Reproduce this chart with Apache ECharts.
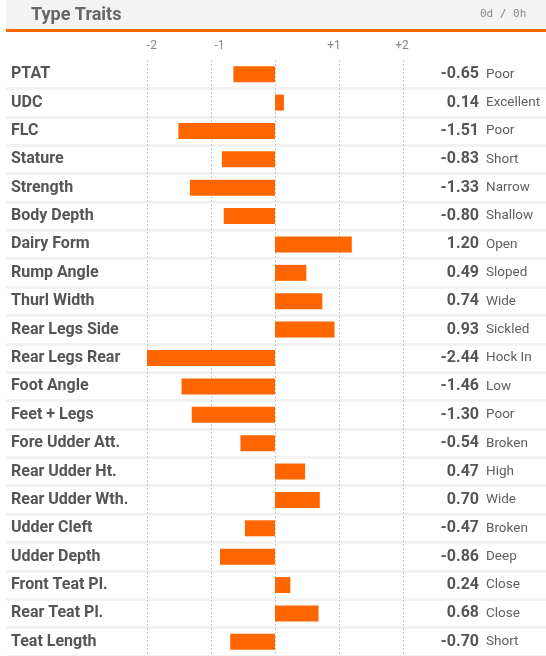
<!DOCTYPE html>
<html>
<head>
<meta charset="utf-8">
<script src="https://cdn.jsdelivr.net/npm/echarts@6/dist/echarts.min.js"></script>
<style>
  html, body { margin: 0; padding: 0; background: #fff; }
  #chart { width: 546px; height: 656px; }
</style>
</head>
<body>
<div id="chart"></div>
<script>
// trait names, top to bottom
var traits = ['PTAT', 'UDC', 'FLC', 'Stature', 'Strength', 'Body Depth', 'Dairy Form',
  'Rump Angle', 'Thurl Width', 'Rear Legs Side', 'Rear Legs Rear', 'Foot Angle',
  'Feet + Legs', 'Fore Udder Att.', 'Rear Udder Ht.', 'Rear Udder Wth.', 'Udder Cleft',
  'Udder Depth', 'Front Teat Pl.', 'Rear Teat Pl.', 'Teat Length']
var scores = [-0.65, 0.14, -1.51, -0.83, -1.33, -0.80, 1.20, 0.49, 0.74, 0.93, -2.44,
  -1.46, -1.30, -0.54, 0.47, 0.70, -0.47, -0.86, 0.24, 0.68, -0.70]
var descriptors = ['Poor', 'Excellent', 'Poor', 'Short', 'Narrow', 'Shallow', 'Open',
  'Sloped', 'Wide', 'Sickled', 'Hock In', 'Low', 'Poor', 'Broken', 'High', 'Wide',
  'Broken', 'Deep', 'Close', 'Close', 'Short']
var tickValues = [-2, -1, 0, 1, 2]
var tickLabels = ['-2', '-1', '', '+1', '+2']

var font = 'Roboto, "Liberation Sans", sans-serif'
var chart = echarts.init(document.getElementById('chart'))

// right hand columns share these settings
function rightAxis(align, margin, fmt, style) {
  return {
    gridIndex: 0,
    type: 'category',
    inverse: true,
    position: 'right',
    offset: 0,
    data: traits,
    axisLine: { show: false },
    axisTick: { show: false },
    axisLabel: Object.assign({ align: align, margin: margin, formatter: fmt, padding: [3, 0, 0, 0] }, style)
  }
}

chart.setOption({
  animation: false,
  title: [
    {
      text: 'Type Traits',
      left: 31,
      top: 6,
      padding: 0,
      textStyle: { fontFamily: font, fontSize: 18, fontWeight: 'bold', color: '#666' }
    },
    {
      text: '0d / 0h',
      left: 480,
      top: 9,
      padding: 0,
      textStyle: { fontFamily: '"DejaVu Sans Mono", monospace', fontSize: 11, fontWeight: 'normal', color: '#888' }
    }
  ],
  graphic: [
    { type: 'rect', z: -10, shape: { x: 6, y: 0, width: 540, height: 29 }, style: { fill: '#f3f3f3' } },
    { type: 'rect', z: -10, shape: { x: 6, y: 29, width: 540, height: 3 }, style: { fill: '#ff6600' } }
  ],
  grid: [
    { left: 147, right: 143, top: 60, bottom: -4 },
    { left: 6, right: 0, top: 60, bottom: -4 }
  ],
  xAxis: [
    {
      gridIndex: 0,
      type: 'value',
      position: 'top',
      min: -2,
      max: 2,
      interval: 1,
      axisLine: { show: false },
      axisTick: { show: false },
      axisLabel: {
        margin: 8,
        fontFamily: font,
        fontSize: 12,
        color: '#888',
        formatter: function (v) {
          var i = tickValues.indexOf(v)
          return tickLabels[i] ? '{t' + i + '|' + tickLabels[i] + '}' : ''
        },
        rich: {
          t0: { padding: [0, 0, 0, 10], fontFamily: font, fontSize: 12, color: '#888' },
          t1: { padding: [0, 0, 0, 17], fontFamily: font, fontSize: 12, color: '#888' },
          t3: { padding: [0, 10, 0, 0], fontFamily: font, fontSize: 12, color: '#888' },
          t4: { padding: [0, 2, 0, 0], fontFamily: font, fontSize: 12, color: '#888' }
        }
      },
      splitLine: { show: true, lineStyle: { color: '#c8c8c8', width: 1, type: [2, 2] } }
    },
    { gridIndex: 1, type: 'value', show: false }
  ],
  yAxis: [
    {
      gridIndex: 0,
      type: 'category',
      inverse: true,
      data: traits,
      axisLine: { show: false },
      axisTick: { show: false },
      axisLabel: {
        align: 'left',
        margin: 136,
        padding: [3, 0, 0, 0],
        fontFamily: font,
        fontSize: 16,
        fontWeight: 'bold',
        color: '#555'
      }
    },
    rightAxis('right', 76, function (v, i) { return scores[i].toFixed(2) },
      { fontFamily: font, fontSize: 16, fontWeight: 'bold', color: '#555' }),
    rightAxis('left', 83, function (v, i) { return descriptors[i] },
      { fontFamily: font, fontSize: 13.5, color: '#606060' }),
    {
      // full-width row separators
      gridIndex: 1,
      type: 'category',
      inverse: true,
      data: traits,
      axisLine: { show: false },
      axisTick: { show: false },
      axisLabel: { show: false },
      splitLine: {
        show: true,
        interval: function (i) { return i > 0 },
        lineStyle: { color: '#f2f2f2', width: 3 }
      },
      z: -1
    }
  ],
  series: [
    {
      type: 'bar',
      xAxisIndex: 0,
      yAxisIndex: 0,
      data: scores,
      barWidth: 16,
      itemStyle: { color: '#ff6600' }
    }
  ]
})
</script>
</body>
</html>
